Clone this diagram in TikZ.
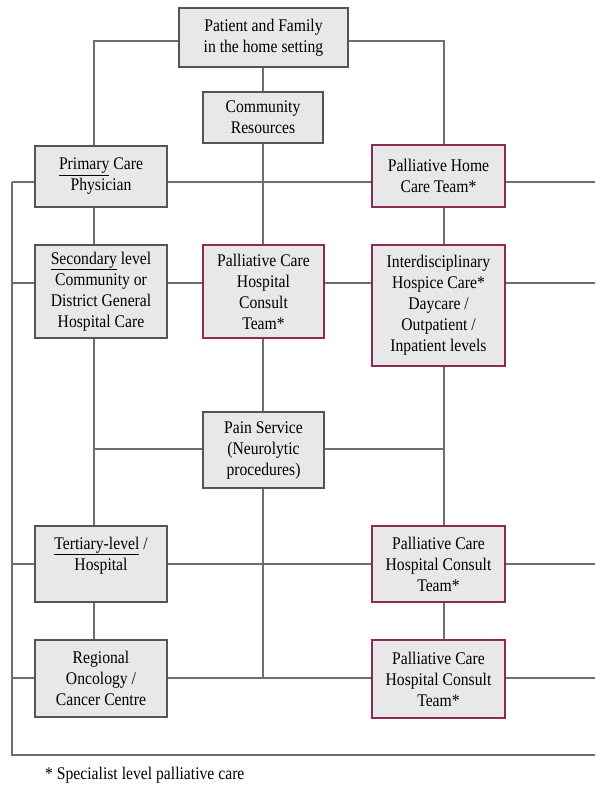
\documentclass[tikz,border=0pt]{standalone}
\usepackage{fontspec}
\setmainfont{Liberation Serif}[FakeStretch=0.88]
\definecolor{boxfill}{RGB}{232,232,232}
\definecolor{boxdraw}{RGB}{85,85,85}
\definecolor{linec}{RGB}{110,110,110}
\definecolor{spec}{RGB}{140,42,90}
\tikzset{
  basebox/.style={rectangle, fill=boxfill, draw=boxdraw, line width=1.1pt, inner sep=0pt, align=center,
    font=\fontsize{17.8pt}{21pt}\selectfont},
  specbox/.style={basebox, draw=spec, line width=2pt},
  conn/.style={draw=linec, line width=1.1pt},
}
\begin{document}
\begin{tikzpicture}[x=1pt,y=-1pt]
\useasboundingbox (0,0) rectangle (595,785);
% boxes
\node[basebox, minimum width=169pt, minimum height=59pt] (pat) at (263.5,37.5) {Patient and Family\\in the home setting};
\node[basebox, minimum width=120pt, minimum height=51pt] (com) at (263,117.5) {Community\\Resources};
\node[basebox, minimum width=132pt, minimum height=61pt] (pri) at (101,176.5) {\underline{Primary} Care\\Physician};
\node[specbox, minimum width=133pt, minimum height=62pt] (pht) at (438.5,176) {Palliative Home\\Care Team*};
\node[basebox, minimum width=132pt, minimum height=93pt] (sec) at (101,291.5) {\underline{Secondary} level\\Community or\\District General\\Hospital Care};
\node[specbox, minimum width=121pt, minimum height=93pt] (pcm) at (263.5,291.5) {Palliative Care\\Hospital\\Consult\\Team*};
\node[specbox, minimum width=133pt, minimum height=121pt] (ihc) at (438.5,305.5) {Interdisciplinary\\Hospice Care*\\Daycare /\\Outpatient /\\Inpatient levels};
\node[basebox, minimum width=121pt, minimum height=76pt] (pain) at (263.5,450) {Pain Service\\(Neurolytic\\procedures)};
\node[basebox, minimum width=132pt, minimum height=76pt] (ter) at (101,564) {\underline{Tertiary-level} /\\Hospital\\\mbox{}};
\node[specbox, minimum width=133pt, minimum height=76pt] (pcf) at (438.5,564) {Palliative Care\\Hospital Consult\\Team*};
\node[basebox, minimum width=132pt, minimum height=77pt] (reg) at (101,678.5) {Regional\\Oncology /\\Cancer Centre};
\node[specbox, minimum width=133pt, minimum height=78pt] (pcg) at (438.5,679) {Palliative Care\\Hospital Consult\\Team*};
\node[anchor=west, inner sep=0pt, font=\fontsize{17.8pt}{21pt}\selectfont] (foot) at (45,775) {* Specialist level palliative care};
% reference coordinates
\coordinate (cl) at (94,0);
\coordinate (cm) at (263,0);
\coordinate (cr) at (444,0);
\coordinate (bus) at (12,0);
\coordinate (edge) at (595,0);
\coordinate (ytop) at (0,41);
\coordinate (ypain) at (0,449);
\coordinate (ybot) at (0,755);
\coordinate (yreg) at (0,678);
% top connections
\draw[conn] (pat.west |- ytop) -- (cl |- ytop) -- (pri.north -| cl);
\draw[conn] (pat.east |- ytop) -- (cr |- ytop) -- (pht.north -| cr);
\draw[conn] (pat.south -| cm) -- (com.north -| cm);
\draw[conn] (com.south -| cm) -- (pcm.north -| cm);
\draw[conn] (pcm.south -| cm) -- (pain.north -| cm);
\draw[conn] (pain.south -| cm) -- (cm |- yreg);
% left column
\draw[conn] (pri.south -| cl) -- (sec.north -| cl);
\draw[conn] (sec.south -| cl) -- (ter.north -| cl);
\draw[conn] (ter.south -| cl) -- (reg.north -| cl);
% right column
\draw[conn] (pht.south -| cr) -- (ihc.north -| cr);
\draw[conn] (ihc.south -| cr) -- (pcf.north -| cr);
\draw[conn] (pcf.south -| cr) -- (pcg.north -| cr);
% rows
\coordinate (r1) at (0,182);
\coordinate (r2) at (0,283);
\coordinate (r4) at (0,564);
\draw[conn] (bus |- r1) -- (pri.west |- r1);
\draw[conn] (pri.east |- r1) -- (pht.west |- r1);
\draw[conn] (pht.east |- r1) -- (edge |- r1);
\draw[conn] (bus |- r2) -- (sec.west |- r2);
\draw[conn] (sec.east |- r2) -- (pcm.west |- r2);
\draw[conn] (pcm.east |- r2) -- (ihc.west |- r2);
\draw[conn] (ihc.east |- r2) -- (edge |- r2);
\draw[conn] (cl |- ypain) -- (pain.west |- ypain);
\draw[conn] (pain.east |- ypain) -- (cr |- ypain);
\draw[conn] (bus |- r4) -- (ter.west |- r4);
\draw[conn] (ter.east |- r4) -- (pcf.west |- r4);
\draw[conn] (pcf.east |- r4) -- (edge |- r4);
\draw[conn] (bus |- yreg) -- (reg.west |- yreg);
\draw[conn] (reg.east |- yreg) -- (pcg.west |- yreg);
\draw[conn] (pcg.east |- yreg) -- (edge |- yreg);
% outer bus
\draw[conn] (bus |- r1) -- (bus |- ybot) -- (edge |- ybot);
\end{tikzpicture}
\end{document}
